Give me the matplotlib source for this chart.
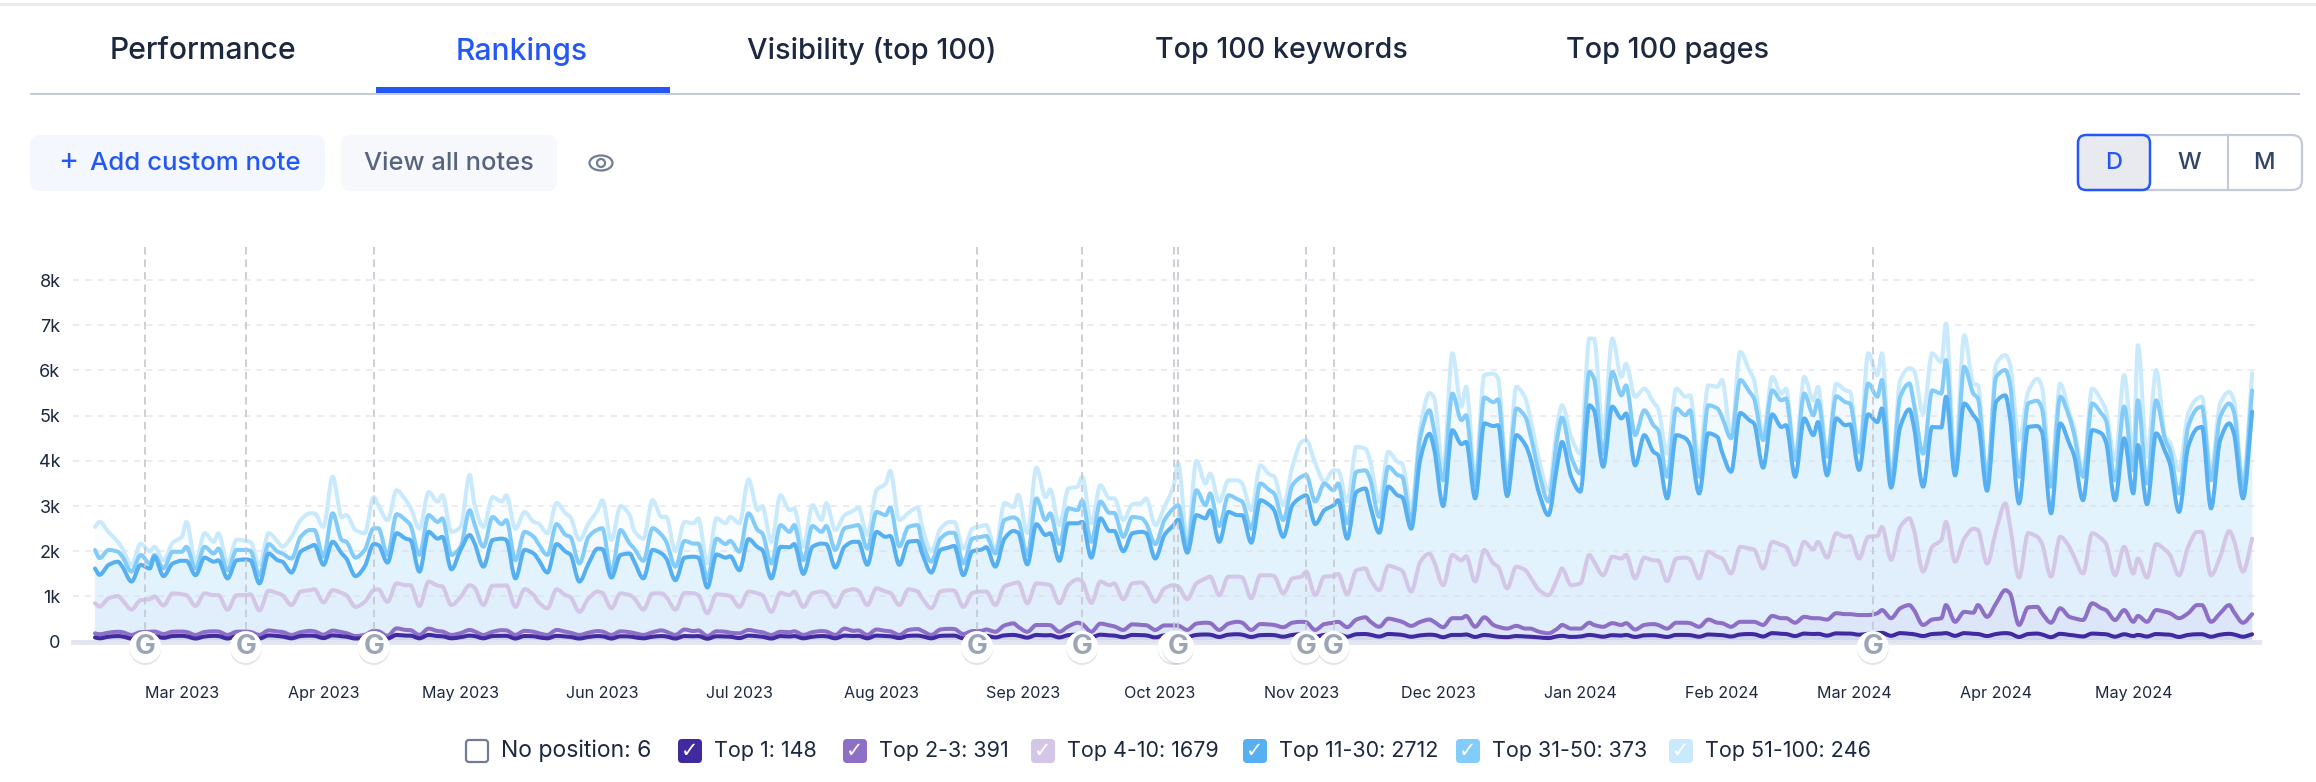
import numpy as np
import matplotlib
matplotlib.use("Agg")
import matplotlib.pyplot as plt
import matplotlib.dates as mdates
import matplotlib.patheffects as pe
from matplotlib.patches import FancyBboxPatch, Ellipse, Rectangle, Circle, PathPatch
from matplotlib.path import Path

plt.rcParams['font.family'] = ['Inter', 'DejaVu Sans']

start = np.datetime64('2023-02-10')

# line heights (the bands are stacked), one row per week
top_1 = [95,
    75,110,125,115, 70,105,120,125, 85,125,130,120, 70,115,130,125, 70,120,125,115,
    70,140,125,115, 75,125,135,130, 80,140,120,110, 70,85,130,125, 70,150,135,135,
    75,150,125,120, 75,100,135,125, 75,125,130,130, 70,125,120,100, 75,130,115,105,
    70,105,125,120, 70,120,115,100, 75,110,125,115, 70,125,120,125, 65,120,115,110,
    80,135,120,110, 70,125,115,125, 75,110,125,120, 75,135,125,130, 75,135,125,120,
    80,130,135,120, 75,130,135,135, 75,115,125,130, 95,140,150,135, 90,150,140,145,
    95,145,155,150, 100,155,140,135, 100,150,145,140, 95,140,140,135, 105,150,160,155,
    105,155,165,155, 105,145,150,145, 110,150,165,155, 110,150,160,165, 110,165,170,155,
    115,170,160,150, 110,140,155,150, 100,150,150,160, 105,150,125,110, 100,125,115,110,
    95,80,120,130, 105,115,150,140, 110,145,135,150, 105,140,145,135, 105,150,150,145,
    110,160,150,145, 115,160,170,165, 115,190,175,170, 125,180,170,175, 135,185,180,180,
    155,175,190,195, 130,190,175,165, 125,170,180,190, 130,190,175,170, 125,170,190,180,
    105,170,180,160, 100,175,150,140, 115,180,170,165, 110,165,125,150, 115,170,160,155,
    105,150,165,165, 110,155,175,160, 110,165]

top_2_3 = [185,
    165,200,220,210, 150,210,220,225, 170,220,225,215, 150,215,230,225, 150,220,225,215,
    150,250,225,215, 150,210,240,230, 155,245,210,190, 125,150,240,230, 130,295,260,255,
    150,290,235,225, 150,190,260,230, 150,220,255,250, 150,240,220,190, 150,260,220,200,
    150,200,235,225, 150,230,210,190, 150,210,250,220, 150,270,235,250, 125,230,220,200,
    185,260,225,210, 150,220,210,230, 150,210,235,225, 150,290,240,250, 150,270,240,230,
    150,260,280,240, 150,270,285,280, 170,235,240,270, 220,360,405,330, 220,370,370,365,
    220,340,420,390, 220,400,360,340, 260,385,370,365, 260,360,360,355, 260,400,420,410,
    260,400,440,420, 260,390,380,370, 320,420,440,430, 260,390,420,440, 320,490,540,450,
    330,510,470,440, 350,440,490,440, 320,520,520,570, 330,540,370,330, 290,350,290,290,
    220,185,290,370, 290,290,420,370, 330,410,370,410, 270,370,390,370, 290,420,420,410,
    330,490,420,410, 330,440,440,440, 370,570,520,520, 420,550,520,520, 490,630,610,610,
    590,590,630,700, 520,740,810,700, 370,490,520,810, 440,660,640,810, 550,850,1140,1070,
    370,760,770,630, 420,740,550,520, 480,850,740,700, 480,700,440,570, 440,700,660,630,
    520,630,810,810, 440,630,810,660, 420,610]

top_4_10 = [850,
    780,960,1010,920, 710,920,940,1000, 800,1070,1050,1030, 790,1070,1030,1030, 710,1030,1030,1050,
    690,1130,1070,1030, 810,1110,1140,1160, 870,1140,1080,1030, 770,880,1140,1160, 880,1290,1250,1250,
    790,1330,1240,1220, 810,990,1250,1200, 810,1240,1240,1250, 770,1160,1030,880, 740,1160,1030,990,
    660,960,1110,1080, 740,1070,1030,960, 710,1070,1070,990, 710,1080,1070,1030, 630,1050,1030,1010,
    770,1110,1070,1030, 660,1080,1030,1110, 770,1070,1110,1070, 770,1110,1160,1130, 810,1180,1110,1080,
    810,1160,1110,960, 740,1110,1140,1130, 770,1080,1110,1110, 810,1220,1290,1310, 850,1290,1270,1250,
    850,1250,1380,1330, 860,1330,1250,1290, 940,1290,1310,1220, 880,1180,1250,1220, 940,1290,1400,1440,
    1030,1440,1440,1420, 960,1470,1470,1450, 1070,1400,1440,1550, 1030,1440,1450,1500, 1050,1580,1620,1400,
    1140,1680,1620,1570, 1110,1770,1950,1770, 1250,1920,1800,1890, 1330,2030,1730,1660, 1180,1660,1580,1440,
    1140,1030,1400,1620, 1250,1290,1920,1770, 1470,1880,1840,1920, 1400,1860,1800,1800, 1340,1840,1860,1820,
    1400,1990,1880,1840, 1510,2100,2060,2040, 1620,2210,2140,2100, 1700,2210,2040,2210, 1860,2400,2320,2340,
    1840,2320,2340,2540, 1810,2540,2730,2470, 1550,2100,2250,2650, 1770,2280,2500,2470, 1730,2470,3060,2580,
    1420,2400,2320,2170, 1440,2320,2100,1890, 1510,2400,2280,2170, 1470,2100,1510,1840, 1420,2160,2030,1920,
    1470,2100,2430,2430, 1470,1880,2450,2250, 1550,2280]

top_11_30 = [1620,
    1480,1700,1770,1660, 1330,1700,1620,1880, 1450,1730,1790,1790, 1470,1860,1770,1800, 1400,1800,1820,1800,
    1290,1950,1800,1770, 1530,1990,2100,2140, 1700,2210,1950,1840, 1450,1660,2160,2140, 1750,2400,2280,2250,
    1550,2430,2280,2320, 1600,2030,2360,2190, 1660,2250,2280,2250, 1400,2030,1950,1820, 1530,2160,1990,1930,
    1330,1730,2060,2050, 1420,1920,1950,1770, 1400,2030,1950,1840, 1360,1860,1880,1860, 1200,1930,1860,1890,
    1580,2270,2090,2030, 1400,2100,2090,2160, 1500,2100,2170,2160, 1640,2100,2210,2210, 1700,2430,2320,2340,
    1700,2210,2230,1950, 1530,2030,2090,2120, 1470,2000,2040,2090, 1660,2280,2450,2410, 1710,2600,2360,2400,
    1790,2620,2620,2650, 1860,2730,2450,2450, 2000,2400,2430,2400, 1840,2360,2580,2700, 1970,2800,2730,2910,
    2210,2870,2800,2800, 2190,3130,3020,2910, 2320,3020,3200,3240, 2600,2910,3020,3130, 2280,3310,3390,3020,
    2410,3430,3240,3200, 2500,4050,4600,4270, 3000,4680,4370,4420, 3170,4830,4770,4790, 3220,4570,4350,4090,
    3280,2800,3940,4420, 3650,3320,5230,5120, 3870,5200,4940,5050, 3900,4570,4200,4130, 3170,4570,4500,4350,
    3280,4610,4530,4200, 3760,5060,4900,4830, 3850,5030,4750,4790, 3650,4940,4570,4860, 3680,4940,4790,4810,
    3800,5030,4860,5160, 3410,4750,5140,4750, 3430,4750,4740,5420, 3680,5270,5010,4860, 3340,5310,5450,4970,
    3060,4750,4770,4640, 2840,4830,4380,4130, 3130,4680,4610,4420, 3130,4500,3280,4350, 3040,4610,4200,3940,
    2870,4310,4720,4750, 2950,4460,4830,4610, 3170,5090]

top_31_50 = [2030,
    1850,2030,1990,1880, 1550,1920,1730,1920, 1620,1990,1990,2100, 1620,2100,1950,2060, 1580,2030,2030,2010,
    1470,2160,1990,1950, 1840,2320,2470,2470, 1880,2840,2250,2210, 1860,2030,2510,2510, 1920,2820,2690,2580,
    1920,2800,2650,2730, 1920,2100,2910,2620, 2100,2760,2600,2690, 1800,2430,2320,2170, 1920,2600,2360,2320,
    1730,2320,2480,2510, 1550,2470,2170,2060, 1790,2510,2360,2210, 1660,2230,2170,2170, 1400,2280,2160,2230,
    1990,2840,2470,2400, 1730,2580,2430,2580, 1800,2560,2430,2560, 2030,2510,2560,2580, 2060,2870,2800,2970,
    2110,2540,2580,2210, 1770,2280,2410,2410, 1730,2280,2320,2340, 1950,2690,2750,2690, 1920,3170,2690,2840,
    2160,2950,2910,3120, 2210,3100,2850,2850, 2320,2760,2730,2620, 2160,2690,2950,3020, 2100,3350,3020,3280,
    2560,3240,3150,3100, 2500,3500,3350,3280, 2690,3460,3650,3690, 3100,3500,3350,3500, 2620,3760,3790,3600,
    2760,3870,3690,3650, 2690,4530,5120,4680, 3570,5490,4900,5010, 3460,5400,5300,5360, 3500,5160,4970,4610,
    3720,3100,4530,4960, 4090,3720,5970,5820, 4160,5970,5450,5670, 4570,5120,4790,4680, 3650,5160,5010,5120,
    3650,5230,5160,4970, 4500,5790,5530,5380, 4460,5560,5340,5380, 4020,5490,5010,5340, 4090,5430,5300,5270,
    4200,5710,5420,5790, 3570,5420,5710,5270, 4160,5560,5490,6230, 3760,6080,5490,5380, 3650,5860,6010,5710,
    3650,5270,5330,5160, 3430,5420,4970,4610, 3650,5270,5050,4900, 3570,5200,3790,5340, 3500,5340,4460,4240,
    3280,4750,5160,5200, 3570,4970,5270,5090, 3430,5560]

top_51_100 = [2540,
    2650,2420,2210,2060, 1700,2170,2000,2100, 1800,2190,2320,2650, 1770,2400,2210,2400, 1730,2260,2230,2210,
    1700,2400,2210,2100, 2320,2690,2840,2840, 2540,3650,2760,2800, 2470,2400,3200,3020, 2690,3350,3130,2980,
    2500,3310,3100,3240, 2430,2540,3690,3060, 2540,3200,3100,3240, 2500,2870,2650,2620, 2400,3070,2840,2760,
    2250,2620,2910,3130, 2250,3000,2800,2450, 2280,3130,2760,2760, 2000,2650,2620,2730, 1730,2730,2620,2760,
    2620,3590,2910,3000, 2210,3240,2910,2950, 2100,3020,2690,3070, 2470,2800,2900,2970, 2360,3350,3500,3780,
    2690,2850,2970,2540, 2000,2500,2650,2650, 2060,2500,2560,2580, 2030,3070,2980,3250, 2400,3850,3200,3370,
    2580,3390,3430,3650, 2620,3460,3170,3170, 2690,3040,3070,3170, 2580,2980,3450,3950, 2250,4000,3500,3720,
    3100,3570,3570,3500, 2910,3900,3700,3660, 3020,3870,4420,4460, 3950,3540,3790,3790, 3100,4310,4270,4000,
    3100,4200,3980,3940, 2950,4750,5500,5400, 3790,6380,5200,5640, 3650,5900,5930,5820, 3650,5640,5380,4970,
    4020,3350,4830,5230, 4530,4160,6710,6700, 4600,6710,5860,6150, 5420,5600,5300,5160, 4160,5600,5420,5450,
    4020,5670,5640,5790, 4570,6410,6000,5790, 4600,5860,5490,5600, 4090,5860,5340,5640, 4160,5710,5560,5530,
    4160,6380,5900,6380, 3650,5790,6050,6000, 5050,6380,6190,7040, 4020,6780,5710,5670, 3620,6150,6340,6150,
    4460,5530,5820,5640, 3650,5710,5050,4750, 3790,5600,5340,5120, 4020,5900,4160,6560, 4090,6010,4530,4420,
    3790,5050,5380,5420, 3790,5270,5530,5340, 3570,5940]

update_dates = ['2023-02-21', '2023-03-15', '2023-04-12', '2023-08-22', '2023-09-14',
                '2023-10-04', '2023-10-05', '2023-11-02', '2023-11-08', '2024-03-05']

y_ticks = [0, 1000, 2000, 3000, 4000, 5000, 6000, 7000, 8000]
y_labels = ['0', '1k', '2k', '3k', '4k', '5k', '6k', '7k', '8k']

tabs = ['Performance', 'Rankings', 'Visibility (top 100)', 'Top 100 keywords', 'Top 100 pages']
legend_labels = ['No position: 6', 'Top 1: 148', 'Top 2-3: 391', 'Top 4-10: 1679',
                 'Top 11-30: 2712', 'Top 31-50: 373', 'Top 51-100: 246']

C_TOP1 = '#41299F'
C_TOP2 = '#8E6FC6'
C_TOP4 = '#D4C6E7'
C_TOP11 = '#55AFF1'
C_TOP31 = '#83CBF9'
C_TOP51 = '#C9E9FD'
BLUE = '#2458F5'
DARK = '#1C2740'

W, H = 2316, 782
fig = plt.figure(figsize=(W / 100, H / 100), dpi=100, facecolor='white')

# ---- page furniture, in pixels ----
ui = fig.add_axes([0, 0, 1, 1])
ui.set_xlim(0, W)
ui.set_ylim(H, 0)
ui.axis('off')


def box(x0, y0, x1, y1, face, edge='none', lw=0, r=10, z=1):
    ui.add_patch(FancyBboxPatch((x0, y0), x1 - x0, y1 - y0, boxstyle=f'round,pad=0,rounding_size={r}',
                                fc=face, ec=edge, lw=lw, zorder=z))


ui.add_patch(Rectangle((0, 3), W, 2.5, fc='#E8EAF0', ec='none'))
ui.add_patch(Rectangle((30, 93), 2270, 2, fc='#C5CAD9', ec='none'))
ui.add_patch(Rectangle((376, 87), 294, 6, fc=BLUE, ec='none'))
# digits in the original face are narrower, so the tabs with numbers get a slightly smaller size
for name, cx, col, size in zip(tabs, [203, 522, 872, 1281, 1667], [DARK, BLUE, DARK, DARK, DARK],
                               [21.7, 21.7, 20.9, 20.6, 20.7]):
    ui.text(cx, 51, name, ha='center', va='center', fontsize=size, color=col, fontweight='medium')

box(30, 135, 325, 191, '#F4F7FE')
ui.text(68, 162, '+', ha='center', va='center', fontsize=22, color=BLUE)
ui.text(90, 164, 'Add custom note', ha='left', va='center', fontsize=18.6, color=BLUE, fontweight='medium')
box(341, 135, 557, 191, '#F6F8FB')
ui.text(449, 164, 'View all notes', ha='center', va='center', fontsize=18.3, color='#56647F', fontweight='medium')
ui.add_patch(Ellipse((601, 163), 23, 15, fc='none', ec='#717D92', lw=1.6))
ui.add_patch(Circle((601, 163), 4, fc='none', ec='#717D92', lw=1.6))

box(2078, 135, 2302, 190, 'white', '#C5CAD9', 1.6, r=10)
ui.plot([2228, 2228], [135, 190], color='#C5CAD9', lw=1.6)
box(2078, 135, 2150, 190, '#E8EAF0', BLUE, 1.8, r=8, z=2)
for letter, cx, col in zip('DWM', [2114, 2189, 2264], [BLUE, '#334566', '#334566']):
    ui.text(cx, 163, letter, ha='center', va='center', fontsize=17, color=col, fontweight='medium', zorder=3)

legend_boxes = [477, 690, 855, 1043, 1255, 1468, 1681]
legend_cols = [None, C_TOP1, C_TOP2, C_TOP4, C_TOP11, C_TOP31, C_TOP51]
for label, bx, col in zip(legend_labels, legend_boxes, legend_cols):
    if col is None:
        box(bx - 11, 740, bx + 11, 762, 'white', '#717D92', 1.6, r=3)
    else:
        box(bx - 12, 739, bx + 12, 763, col, r=4)
        ui.text(bx, 751, '✓', ha='center', va='center', fontsize=15, color='white', family='DejaVu Sans')
    ui.text(bx + 24, 751, label, ha='left', va='center', fontsize=16.5 if col is None else 15.5, color=DARK)

# ---- chart ----
sample_days = [0]
for week in range(67):
    sample_days += [1 + 7 * week + off for off in (0, 2, 4, 5)]
sample_days += [470, 472]
dates = start + np.array(sample_days, dtype='timedelta64[D]')
x_num = mdates.date2num(dates)


def monotone_path(x, y, close_to=None):
    # same curve type as the source chart: flat at each turning point, no overshoot
    y = np.asarray(y, dtype=float)
    dx = np.diff(x)
    s = np.diff(y) / dx
    m = np.zeros_like(y)
    m[0], m[-1] = s[0], s[-1]
    inner = s[:-1] * s[1:] > 0
    m[1:-1][inner] = (2 * s[:-1] * s[1:] / (s[:-1] + s[1:]))[inner]
    verts = [(x[0], y[0])]
    codes = [Path.MOVETO]
    for i in range(len(dx)):
        verts += [(x[i] + dx[i] / 3, y[i] + m[i] * dx[i] / 3),
                  (x[i + 1] - dx[i] / 3, y[i + 1] - m[i + 1] * dx[i] / 3),
                  (x[i + 1], y[i + 1])]
        codes += [Path.CURVE4] * 3
    if close_to is not None:
        verts += [(x[-1], close_to), (x[0], close_to), (x[0], y[0])]
        codes += [Path.LINETO, Path.LINETO, Path.CLOSEPOLY]
    return Path(verts, codes)


ax = fig.add_axes([73 / W, (H - 641.7) / H, (2259 - 73) / W, (641.7 - 247) / H])
ax.patch.set_alpha(0)
d0 = mdates.date2num(start)
ax.set_xlim(d0 - 4.81, d0 + 473.5)
ax.set_ylim(0, 8732)

levels = [top_51_100, top_31_50, top_11_30, top_4_10, top_2_3, top_1]
fills = ['#FAFDFF', '#F3FAFF', '#E3F3FD', '#E0EFFB', '#DCE6F8', '#CFD6F0']
for vals, col in zip(levels, fills):
    ax.add_patch(PathPatch(monotone_path(x_num, vals, close_to=0), fc=col, ec='none', zorder=1))

ax.set_yticks(y_ticks, y_labels)
ax.grid(axis='y', color='#DADDE3', lw=1.1, ls=(0, (4, 4)), alpha=0.7, zorder=2)
ax.set_axisbelow(False)
for s in ax.spines.values():
    s.set_visible(False)
ax.axhline(0, color='#E2E6F0', lw=3.5, zorder=2, clip_on=False)

for vals, col in zip(levels, [C_TOP51, C_TOP31, C_TOP11, C_TOP4, C_TOP2, C_TOP1]):
    ax.add_patch(PathPatch(monotone_path(x_num, vals), fc='none', ec=col, lw=2.9,
                           joinstyle='round', capstyle='round', zorder=3))

ax.xaxis.set_major_locator(mdates.MonthLocator())
ax.xaxis.set_major_formatter(mdates.DateFormatter('%b %Y'))
ax.tick_params(axis='x', length=0, pad=32, labelsize=11.6, labelcolor=DARK)
ax.tick_params(axis='y', length=0, pad=9, labelsize=13, labelcolor=DARK)

update_x = np.array(update_dates, dtype='datetime64[D]')
for u in update_x:
    ax.axvline(u, color='#C4C8D0', lw=1.2, ls=(0, (4.5, 3)), zorder=4)
for i, u in enumerate(update_x):
    ax.scatter([u], [-118], s=520, c='white', clip_on=False, zorder=6 + 2 * i, lw=0,
               path_effects=[pe.withSimplePatchShadow(offset=(0, -1.5), shadow_rgbFace='#9AA3B0', alpha=0.3), pe.Normal()])
    ax.text(u, -118, 'G', ha='center', va='center', fontsize=20, color='#9AA6B6', fontweight='bold',
            clip_on=False, zorder=7 + 2 * i)

fig.savefig('out.png', dpi=100)
